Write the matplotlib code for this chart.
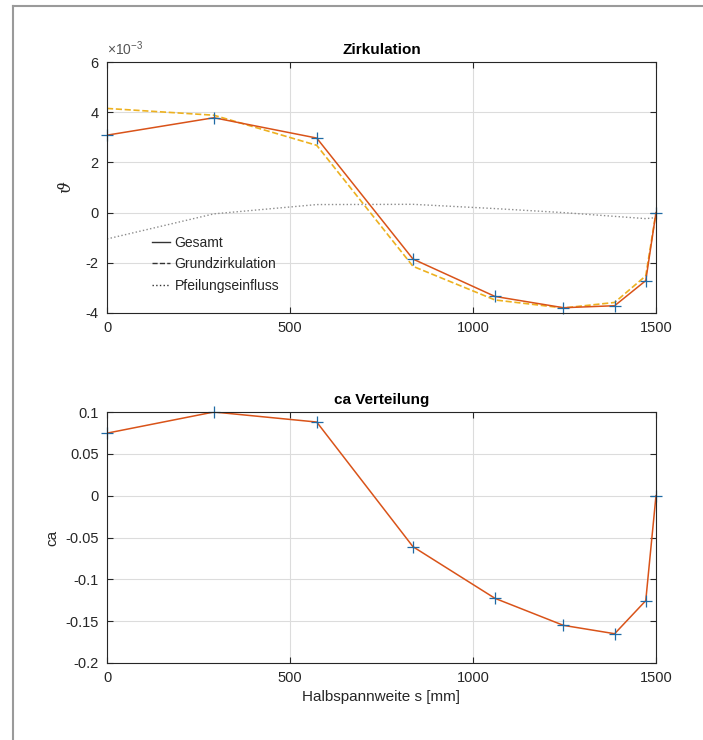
import numpy as np
import matplotlib
matplotlib.use('Agg')
import matplotlib.pyplot as plt
from matplotlib.lines import Line2D

plt.rcParams['font.family'] = ['Liberation Sans', 'DejaVu Sans']
plt.rcParams['axes.unicode_minus'] = False
plt.rcParams['mathtext.default'] = 'regular'

# spanwise stations [mm]
s = [0, 292, 573, 836, 1060, 1247, 1387, 1472, 1500]
# Zirkulation (units of 1e-3)
gesamt = [3.085, 3.78, 2.97, -1.85, -3.34, -3.79, -3.71, -2.71, 0.0]
grund = [4.15, 3.88, 2.68, -2.14, -3.48, -3.80, -3.58, -2.52, 0.0]
pfeilung = [-1.05, -0.05, 0.32, 0.33, 0.16, 0.0, -0.15, -0.24, -0.20]
# ca Verteilung
ca = [0.0747, 0.100, 0.088, -0.061, -0.1227, -0.155, -0.165, -0.1255, 0.0]
ca_ticks = [-0.2, -0.15, -0.1, -0.05, 0, 0.05, 0.1]
gam_ticks = [-4, -2, 0, 2, 4, 6]

blue = '#1f6aa5'
orange = '#D95319'
yellow = '#EDB120'
txt = '#262626'

fig = plt.figure(figsize=(7.03, 7.40), dpi=100)
# screenshot frame
fig.add_artist(Line2D([12.5 / 703, 12.5 / 703], [0, 1 - 6 / 740], color='#9a9a9a', lw=1.5))
fig.add_artist(Line2D([12.5 / 703, 1], [1 - 6 / 740, 1 - 6 / 740], color='#9a9a9a', lw=1.5))


def style(ax):
    ax.set_xlim(0, 1500)
    ax.set_xticks([0, 500, 1000, 1500])
    ax.grid(True, color='#dcdcdc', lw=0.8)
    ax.set_axisbelow(True)
    ax.tick_params(direction='in', top=True, right=True, labelsize=10.5,
                   colors=txt, length=4, pad=6)
    for sp in ax.spines.values():
        sp.set_color('#262626')
        sp.set_linewidth(0.8)


ax1 = fig.add_axes([107 / 703, 1 - 313 / 740, 549 / 703, 251 / 740])
ax1.plot(s, pfeilung, ':', color='#8c8c8c', lw=1)
ax1.plot(s, grund, '--', color=yellow, lw=1.2)
ax1.plot(s, gesamt, '-', color=orange, lw=1.1)
ax1.plot(s, gesamt, '+', color=blue, ms=9, mew=0.9, clip_on=False)
ax1.set_ylim(-4, 6)
ax1.set_yticks(gam_ticks)
ax1.set_yticklabels([str(t) for t in gam_ticks])
style(ax1)
ax1.text(0.0, 1.015, '×10$^{-3}$', transform=ax1.transAxes, fontsize=10,
         color='#555555', ha='left', va='bottom')
ax1.set_title('Zirkulation', fontsize=11, fontweight='bold', color='black', pad=6)
ax1.set_ylabel('ϑ', fontsize=12, color=txt, labelpad=8,
               family=['DejaVu Serif', 'DejaVu Sans'], style='italic')

handles = [Line2D([], [], color='#333333', ls='-', lw=1),
           Line2D([], [], color='#333333', ls='--', lw=1),
           Line2D([], [], color='#333333', ls=':', lw=1)]
ax1.legend(handles, ['Gesamt', 'Grundzirkulation', 'Pfeilungseinfluss'],
           loc='lower left', bbox_to_anchor=(0.06, 0.03), frameon=False,
           fontsize=10, handlelength=1.3, handletextpad=0.3, labelspacing=0.55,
           labelcolor=txt)

ax2 = fig.add_axes([107 / 703, 1 - 663 / 740, 549 / 703, 251 / 740])
ax2.plot(s, ca, '-', color=orange, lw=1.1)
ax2.plot(s, ca, '+', color=blue, ms=9, mew=0.9, clip_on=False)
ax2.set_ylim(-0.2, 0.1)
ax2.set_yticks(ca_ticks)
ax2.set_yticklabels(['%g' % t for t in ca_ticks])
style(ax2)
ax2.set_title('ca Verteilung', fontsize=11, fontweight='bold', color='black', pad=6)
ax2.set_ylabel('ca', fontsize=11, color=txt, labelpad=4)
ax2.set_xlabel('Halbspannweite s [mm]', fontsize=11, color=txt, labelpad=3)

fig.savefig('out.png', dpi=100)
